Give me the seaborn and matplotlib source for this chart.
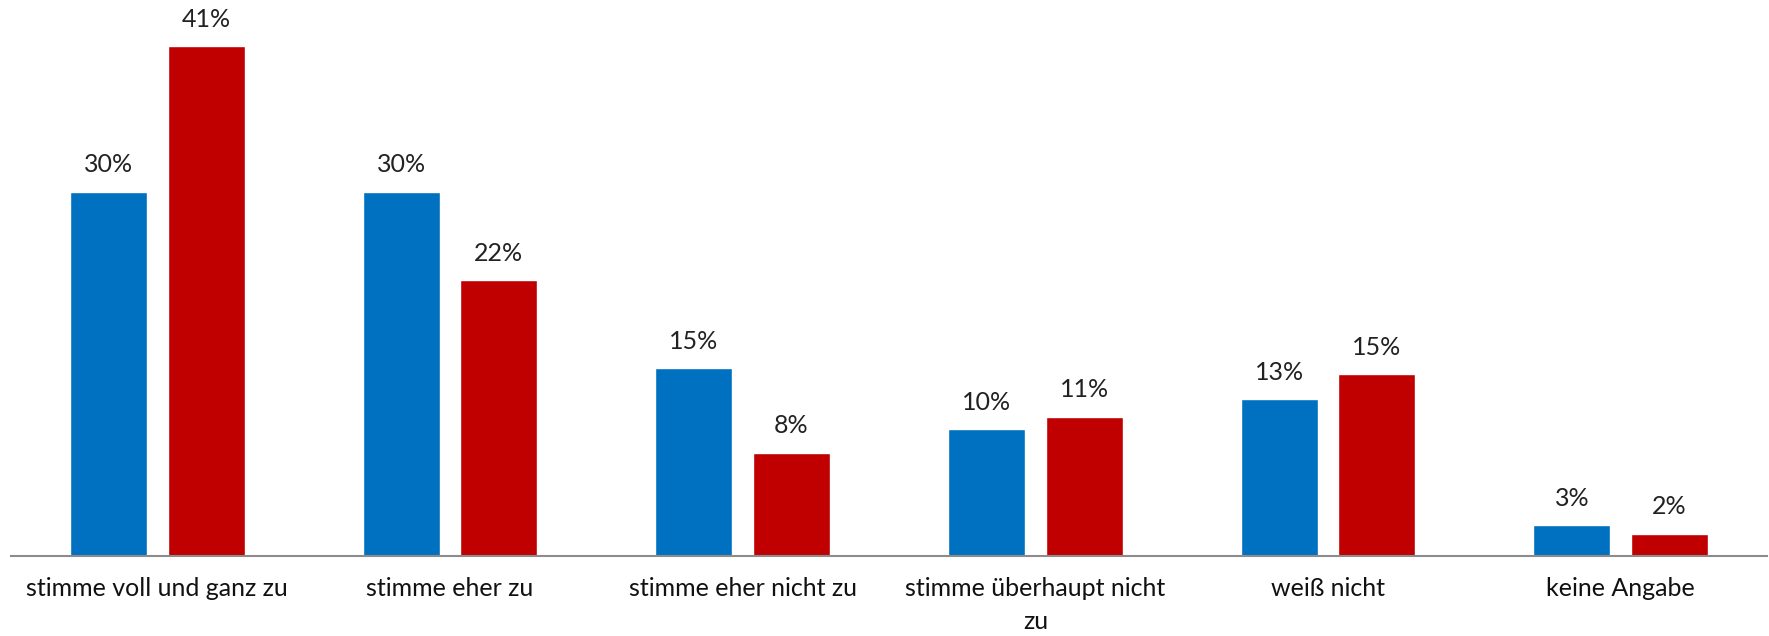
"""Grouped bar chart: survey answers, two groups"""

import pandas as pd
import seaborn as sns
import matplotlib.pyplot as plt

categories = [
    "stimme voll und ganz zu",
    "stimme eher zu",
    "stimme eher nicht zu",
    "stimme überhaupt nicht\nzu",
    "weiß nicht",
    "keine Angabe",
]
groups = ["Gruppe A", "Gruppe B"]
values_a = [29.3, 29.3, 15.1, 10.2, 12.6, 2.5]
values_b = [41.0, 22.2, 8.3, 11.2, 14.6, 1.8]
labels_a = ["30%", "30%", "15%", "10%", "13%", "3%"]
labels_b = ["41%", "22%", "8%", "11%", "15%", "2%"]

df = pd.DataFrame({
    "cat": categories * 2,
    "group": [groups[0]] * len(categories) + [groups[1]] * len(categories),
    "value": values_a + values_b,
})

sns.set_style("white")
plt.rcParams["font.family"] = ["Lato", "DejaVu Sans"]

fig = plt.figure(figsize=(17.69, 6.36), dpi=100)
ax = fig.add_axes([11 / 1769, 80 / 636, 1756 / 1769, 556 / 636])

sns.barplot(data=df, x="cat", y="value", hue="group", order=categories,
            palette=["#0070C0", "#C00000"], width=0.667, gap=0.21,
            legend=False, ax=ax, saturation=1)

# value labels above bars
for cont, labs in zip(ax.containers, [labels_a, labels_b]):
    ax.bar_label(cont, labels=labs, padding=11, fontsize=18, color="#222222")

ax.set_xlim(-0.5, len(categories) - 0.5)
ax.set_ylim(0, 44.7)
ax.set_xlabel("")
ax.set_ylabel("")
ax.set_yticks([])
ax.tick_params(axis="x", length=0, pad=15, labelsize=18, labelcolor="#111111")
for lab in ax.get_xticklabels():
    lab.set_linespacing(1.55)
for s in ["top", "left", "right"]:
    ax.spines[s].set_visible(False)
ax.spines["bottom"].set_color("#8c8c8c")
ax.spines["bottom"].set_linewidth(1.5)

fig.savefig("out.png", dpi=100)
plt.close()
